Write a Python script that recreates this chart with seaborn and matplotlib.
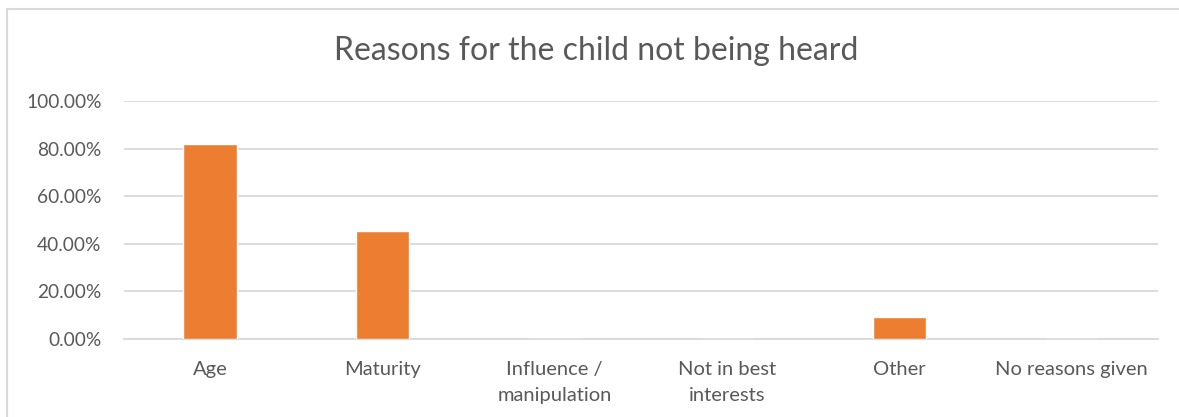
import pandas as pd
import seaborn as sns
import matplotlib.pyplot as plt
from matplotlib.lines import Line2D
from matplotlib.ticker import FuncFormatter

categories = ["Age", "Maturity", "Influence /\nmanipulation",
              "Not in best\ninterests", "Other", "No reasons given"]
shares = [81.82, 45.45, 0.0, 0.0, 9.09, 0.0]

df = pd.DataFrame({"reason": categories, "share": shares})

sns.set_theme(style="white")
plt.rcParams["font.family"] = ["Lato", "DejaVu Sans"]

text_grey = "#595959"
grid_grey = "#D9D9D9"

fig = plt.figure(figsize=(11.79, 4.17), dpi=100)
ax = fig.add_axes([0.105, 0.187, 0.877, 0.571])

sns.barplot(data=df, x="reason", y="share", color="#ED7D31",
            width=0.31, saturation=1, ax=ax, zorder=3)

ax.set_ylim(0, 100)
ax.set_yticks([0, 20, 40, 60, 80, 100])
ax.yaxis.set_major_formatter(FuncFormatter(lambda v, _: f"{v:.2f}%"))
ax.grid(axis="y", color=grid_grey, linewidth=1.3, zorder=0)
ax.set_axisbelow(True)
for side in ["top", "right", "left"]:
    ax.spines[side].set_visible(False)
ax.spines["bottom"].set_color(grid_grey)
ax.spines["bottom"].set_linewidth(1.3)

ax.tick_params(axis="both", length=0, colors=text_grey)
ax.tick_params(axis="y", pad=16, labelsize=13.8)
ax.tick_params(axis="x", pad=16, labelsize=14.5)
for lbl in ax.get_xticklabels():
    lbl.set_linespacing(1.6)
ax.set_xlabel("")
ax.set_ylabel("")

fig.text(0.506, 0.877, "Reasons for the child not being heard",
         ha="center", va="center", fontsize=23, color=text_grey)

# chart frame: only its left and top edges fall inside the picture
x0, y0 = 7 / 1179, 1 - 9 / 417
fig.add_artist(Line2D([x0, x0], [0, y0], transform=fig.transFigure,
                      color=grid_grey, linewidth=1.5))
fig.add_artist(Line2D([x0, 1], [y0, y0], transform=fig.transFigure,
                      color=grid_grey, linewidth=1.5))

fig.savefig("out.png", dpi=100)
